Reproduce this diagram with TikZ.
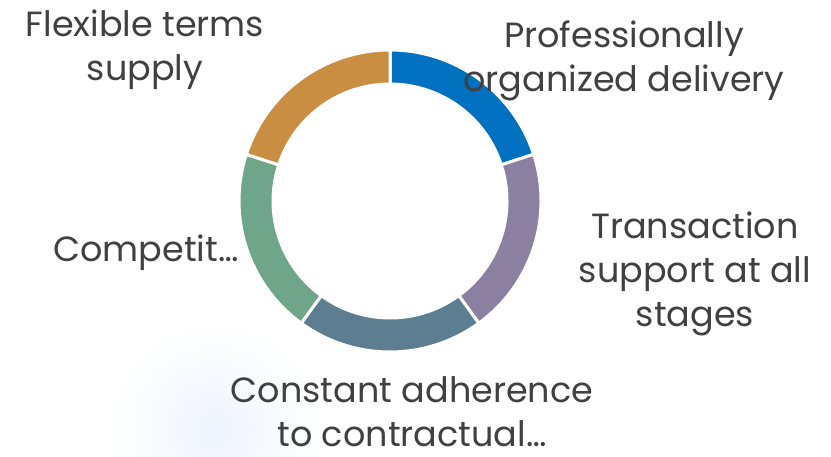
\documentclass[tikz,border=0pt]{standalone}
\usepackage{fontspec}
\setmainfont{Poppins}
\definecolor{segblue}{RGB}{0,112,192}
\definecolor{segviolet}{RGB}{139,128,160}
\definecolor{segslate}{RGB}{92,126,144}
\definecolor{seggreen}{RGB}{111,166,137}
\definecolor{segochre}{RGB}{201,142,66}
\definecolor{labelgray}{RGB}{64,64,64}
\definecolor{glowblue}{RGB}{238,244,252}
\tikzset{
  segment/.style={draw=white, line width=3pt, line join=miter},
  label/.style={text=labelgray, align=center, inner sep=0pt,
    font=\fontsize{35}{44}\selectfont}
}
\begin{document}
\begin{tikzpicture}[x=1pt,y=1pt]
        \useasboundingbox (0,0) rectangle (831,456);
        %% faint glow
        \shade[inner color=glowblue, outer color=white] (215,28) circle (105);
        %% ring
        \begin{scope}[shift={(390,255)}]
        \foreach \a/\c in {90/segblue,18/segviolet,-54/segslate,-126/seggreen,-198/segochre}
            \draw[segment, fill=\c] (\a:151) arc[start angle=\a, end angle=\a-72, radius=151]
                -- (\a-72:117) arc[start angle=\a-72, end angle=\a, radius=117] -- cycle;
        \end{scope}
        %% labels
        \node[label] (flex) at (145,406) {Flexible terms\\supply};
        \node[label] (prof) at (624,395) {Professionally\\organized delivery};
        \node[label] (trans) at (695,182) {Transaction\\support at all\\stages};
        \node[label] (comp) at (146,203) {Competit…};
        \node[label] (const) at (412,44) {Constant adherence\\to contractual…};
    \end{tikzpicture}
\end{document}
